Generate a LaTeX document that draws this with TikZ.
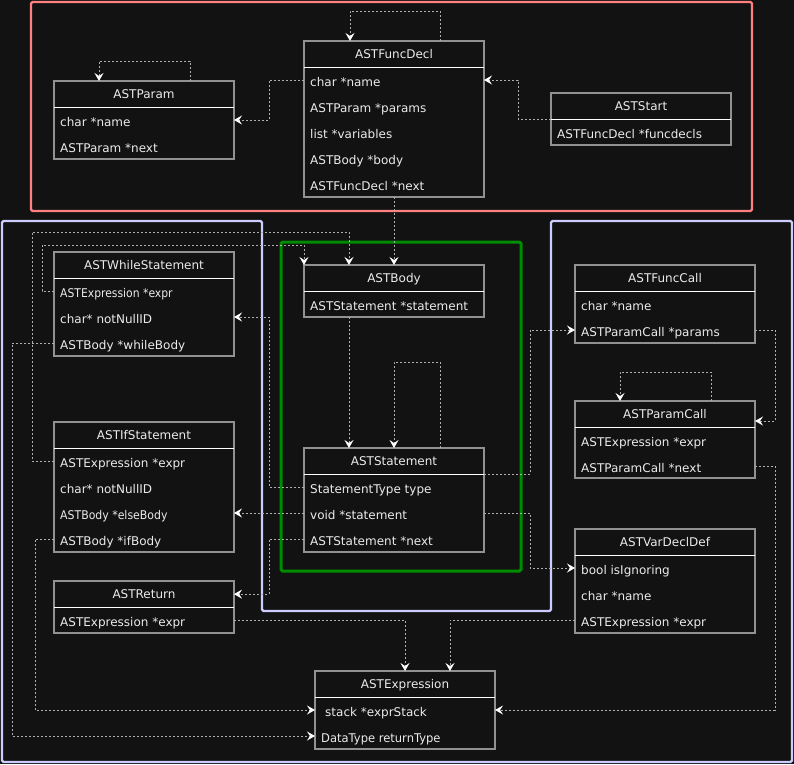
\documentclass[tikz,border=0pt]{standalone}
\usepackage{fontspec}
\setmainfont{DejaVu Sans}
\usetikzlibrary{arrows.meta}
\definecolor{bgdark}{RGB}{18,18,18}
\definecolor{boxgray}{RGB}{145,145,145}
\definecolor{edgegray}{RGB}{175,175,175}
\definecolor{labelwhite}{RGB}{235,235,235}
\definecolor{clusterred}{RGB}{255,128,128}
\definecolor{clusterlav}{RGB}{204,204,255}
\definecolor{clustergreen}{RGB}{0,140,0}
\tikzset{
    class_box/.style = {
        draw=boxgray,
        line width=1.5pt,
        fill=bgdark,
        anchor=north west,
        inner sep=0pt,
        outer sep=0pt,
        minimum width=180pt
    },
    class_title/.style = {
        text=labelwhite,
        anchor=base,
        inner sep=0pt,
        font=\fontsize{12}{14}\selectfont
    },
    class_field/.style = {
        text=labelwhite,
        anchor=base west,
        inner sep=0pt,
        text height=12pt,
        text depth=0pt,
        font=\fontsize{12}{14}\selectfont
    },
    class_divider/.style = {
        draw=white,
        line width=1pt
    },
    dep_line/.style = {
        draw=edgegray,
        line width=1pt,
        dash pattern=on 2pt off 2pt,
        -{Stealth[length=8pt, width=9pt, inset=3pt, color=white]}
    },
    red_cluster/.style = {
        draw=clusterred,
        line width=2.2pt,
        rounded corners=1.5pt
    },
    lav_cluster/.style = {
        draw=clusterlav,
        line width=2.2pt,
        rounded corners=1.5pt
    },
    green_cluster/.style = {
        draw=clustergreen,
        line width=3pt,
        rounded corners=1.5pt
    },
}

\begin{document}
\begin{tikzpicture}[x=1pt, y=-1pt]
    \useasboundingbox (0,0) rectangle (794,764);
    \fill[bgdark] (0,0) rectangle (794,764);

    \draw[red_cluster] (31,2) rectangle (752,211);
    \draw[lav_cluster] (2,221) -- (262,221) -- (262,611) -- (551,611) -- (551,221) -- (792,221) -- (792,762) -- (2,762) -- cycle;
    \draw[green_cluster] (281,242) rectangle (521,571);

    \node[class_box, minimum height=156pt] (funcdecl) at (304,41) {};
    \node[class_box, minimum height=78pt] (param) at (54,81) {};
    \node[class_box, minimum height=52pt] (start) at (551,93) {};
    \node[class_box, minimum height=104pt] (while) at (54,252) {};
    \node[class_box, minimum height=130pt] (ifstmt) at (54,422) {};
    \node[class_box, minimum height=52pt] (ret) at (54,581) {};
    \node[class_box, minimum height=52pt] (body) at (304,265) {};
    \node[class_box, minimum height=104pt] (stmt) at (304,448) {};
    \node[class_box, minimum height=78pt] (funccall) at (575,265) {};
    \node[class_box, minimum height=77pt] (paramcall) at (575,401) {};
    \node[class_box, minimum height=104pt] (vardecl) at (575,529) {};
    \node[class_box, minimum height=78pt] (expr) at (315,671) {};

    \foreach \cls in {funcdecl, param, start, while, ifstmt, ret, body, stmt, funccall, paramcall, vardecl, expr} {
        \draw[class_divider] ([yshift=-26pt]\cls.north west) -- ([yshift=-26pt]\cls.north east);
    }

    \node[class_title] (funcdecl_title) at ([yshift=-17.5pt]funcdecl.north) {ASTFuncDecl};
    \node[class_field] (fd_name) at (310,86) {char *name};
    \node[class_field] (fd_params) at (310,112) {ASTParam *params};
    \node[class_field] (fd_vars) at (310,138) {list *variables};
    \node[class_field] (fd_body) at (310,164) {ASTBody *body};
    \node[class_field] (fd_next) at (310,190) {ASTFuncDecl *next};

    \node[class_title] (param_title) at ([yshift=-17.5pt]param.north) {ASTParam};
    \node[class_field] (pa_name) at (60,126) {char *name};
    \node[class_field] (pa_next) at (60,152) {ASTParam *next};

    \node[class_title] (start_title) at ([yshift=-17.5pt]start.north) {ASTStart};
    \node[class_field] (st_decls) at (557,138) {ASTFuncDecl *funcdecls};

    \node[class_title] (while_title) at ([yshift=-17.5pt]while.north) {ASTWhileStatement};
    \node[class_field] (wh_expr) at (60,297) {\scalebox{0.9}[1]{ASTExpression *expr}};
    \node[class_field] (wh_id) at (60,323) {char* notNullID};
    \node[class_field] (wh_body) at (60,349) {ASTBody *whileBody};

    \node[class_title] (if_title) at ([yshift=-17.5pt]ifstmt.north) {ASTIfStatement};
    \node[class_field] (if_expr) at (60,467) {ASTExpression *expr};
    \node[class_field] (if_id) at (60,493) {char* notNullID};
    \node[class_field] (if_else) at (60,519) {\scalebox{0.91}[1]{ASTBody *elseBody}};
    \node[class_field] (if_body) at (60,545) {ASTBody *ifBody};

    \node[class_title] (ret_title) at ([yshift=-17.5pt]ret.north) {ASTReturn};
    \node[class_field] (re_expr) at (60,626) {ASTExpression *expr};

    \node[class_title] (body_title) at ([yshift=-17.5pt]body.north) {ASTBody};
    \node[class_field] (bo_stmt) at (310,310) {ASTStatement *statement};

    \node[class_title] (stmt_title) at ([yshift=-17.5pt]stmt.north) {ASTStatement};
    \node[class_field] (sm_type) at (310,493) {StatementType type};
    \node[class_field] (sm_stmt) at (310,519) {void *statement};
    \node[class_field] (sm_next) at (310,545) {ASTStatement *next};

    \node[class_title] (funccall_title) at ([yshift=-17.5pt]funccall.north) {ASTFuncCall};
    \node[class_field] (fc_name) at (581,310) {char *name};
    \node[class_field] (fc_params) at (581,336) {ASTParamCall *params};

    \node[class_title] (paramcall_title) at ([yshift=-17.5pt]paramcall.north) {ASTParamCall};
    \node[class_field] (pc_expr) at (581,446) {ASTExpression *expr};
    \node[class_field] (pc_next) at (581,472) {ASTParamCall *next};

    \node[class_title] (vardecl_title) at ([yshift=-17.5pt]vardecl.north) {ASTVarDeclDef};
    \node[class_field] (vd_ign) at (581,574) {bool isIgnoring};
    \node[class_field] (vd_name) at (581,600) {char *name};
    \node[class_field] (vd_expr) at (581,626) {ASTExpression *expr};

    \node[class_title] (expr_title) at ([yshift=-17.5pt]expr.north) {ASTExpression};
    \node[class_field] (ex_stack) at (325,716) {stack *exprStack};
    \node[class_field] (ex_type) at (321,742) {\scalebox{0.96}[1]{DataType returnType}};

    \draw[dep_line] ([xshift=46pt]funcdecl.north) -- ++(0,-30) -| ([xshift=-44pt]funcdecl.north);
    \draw[dep_line] ([xshift=46pt]param.north) -- ++(0,-20) -| ([xshift=-45pt]param.north);
    \draw[dep_line] (funcdecl.west |- fd_name) -- ++(-35,0) |- (param.east |- pa_name);
    \draw[dep_line] (start.west) -- ++(-33,0) |- (funcdecl.east |- fd_name);
    \draw[dep_line] (funcdecl.south) -- (body.north);

    \draw[dep_line] (while.west |- wh_expr) -- ++(-12,0) -- ++(0,-46) -| (body.north west);
    \draw[dep_line] (ifstmt.west |- if_expr) -- ++(-22,0) |- ([xshift=-45pt, yshift=33pt]body.north) -- ([xshift=-45pt]body.north);
    \draw[dep_line] (while.west |- wh_body) -- ++(-42,0) |- (expr.west |- ex_type);
    \draw[dep_line] (ifstmt.west |- if_body) -- ++(-19,0) |- (expr.west |- ex_stack);

    \draw[dep_line] (stmt.west |- sm_type) -- ++(-35,0) |- (while.east |- wh_id);
    \draw[dep_line] (stmt.west |- sm_stmt) -- (ifstmt.east |- if_else);
    \draw[dep_line] (stmt.west |- sm_next) -- ++(-35,0) |- (ret.east |- ret_title);
    \draw[dep_line] (stmt.east |- sm_stmt) -- ++(46,0) |- (vardecl.west |- vd_ign);
    \draw[dep_line] ([yshift=-26pt]stmt.north east) -- ++(46,0) |- (funccall.west |- fc_params);
    \draw[dep_line] ([xshift=46pt]stmt.north) -- ++(0,-86) -| (stmt.north);
    \draw[dep_line] ([xshift=-45pt]body.south) -- ([xshift=-45pt]stmt.north);

    \draw[dep_line] (funccall.east |- fc_params) -- ++(20,0) |- ([yshift=-20pt]paramcall.north east);
    \draw[dep_line] ([xshift=46pt]paramcall.north) -- ++(0,-29) -| ([xshift=-45pt]paramcall.north);
    \draw[dep_line] (paramcall.east |- pc_next) -- ++(20,0) |- (expr.east |- ex_stack);
    \draw[dep_line] (ret.east |- re_expr) -| (expr.north);
    \draw[dep_line] (vardecl.west |- vd_expr) -| ([xshift=45pt]expr.north);
\end{tikzpicture}
\end{document}
